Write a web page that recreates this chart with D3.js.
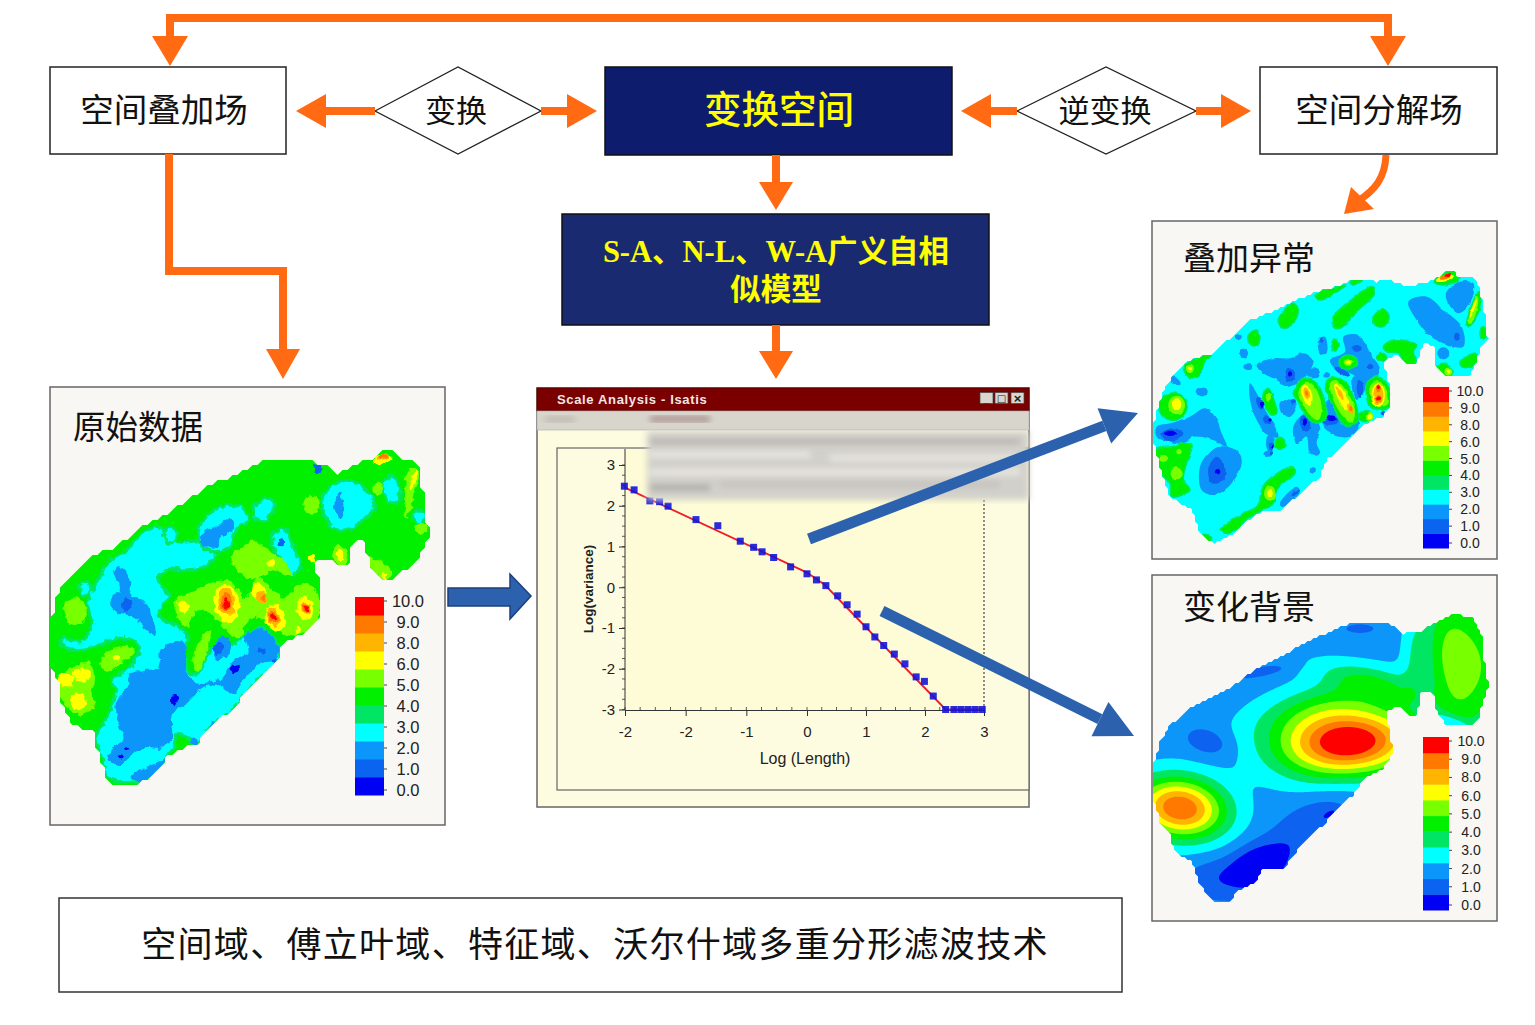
<!DOCTYPE html>
<html lang="zh"><head><meta charset="utf-8">
<style>html,body{margin:0;padding:0;background:#fff}svg{display:block}</style>
<script src="https://cdnjs.cloudflare.com/ajax/libs/d3/7.8.5/d3.min.js"></script></head>
<body><svg id="c" width="1535" height="1025"></svg>
<script>
// ---------- DATA ----------
const legendLabels = ["10.0","9.0","8.0","6.0","5.0","4.0","3.0","2.0","1.0","0.0"];
const bandColors = ["#0000f5","#0a64f0","#0a96fa","#00ffff","#00e664","#00f000","#78ff00","#ffff00","#ffb400","#ff7800","#ff0000"];
const xTickValues = [-3,-2,-1,0,1,2,3];
const xTickLabels = ["-2","-2","-1","0","1","2","3"];
const yTickValues = [3,2,1,0,-1,-2,-3];
const logLength = [-3.01,-2.85,-2.59,-2.43,-2.29,-1.83,-1.47,-1.10,-0.88,-0.74,-0.55,-0.27,0,0.16,0.32,0.52,0.68,0.85,1,1.15,1.30,1.48,1.66,1.85,1.99,2.14,2.35,2.49,2.61,2.73,2.85,2.97];
const logVariance = [2.48,2.39,2.12,2.10,1.99,1.66,1.51,1.13,0.98,0.87,0.73,0.50,0.33,0.18,0.04,-0.21,-0.43,-0.66,-0.97,-1.22,-1.43,-1.64,-1.88,-2.20,-2.31,-2.67,-3,-3,-3,-3,-3,-3];
const fitLength = [-3.01,0,0.3,2.35,2.97];
const fitVariance = [2.45,0.36,0.06,-3,-3];

// map 1: outline, iso-band regions [band, x,y, x,y ...], iso-band spots [band, x,y,rx,ry,angle]
const rawOutline = [[20,760],[20,700],[35,640],[60,590],[100,550],[140,510],[200,490],[250,460],[300,420],[370,385],[430,340],[500,300],[570,270],[640,235],[710,220],[800,230],[840,240],[880,265],[930,235],[990,220],[1020,195],[1045,195],[1060,220],[1105,220],[1125,260],[1135,330],[1140,400],[1155,440],[1130,500],[1110,540],[1060,570],[1030,590],[1000,580],[975,545],[965,500],[955,465],[930,465],[915,500],[905,545],[880,550],[860,515],[830,525],[805,535],[820,580],[820,630],[830,700],[790,740],[740,760],[710,790],[700,830],[640,880],[610,910],[570,970],[500,1020],[450,1085],[400,1090],[360,1120],[350,1150],[290,1190],[220,1205],[185,1185],[170,1130],[150,1080],[145,1040],[85,1020],[50,950],[35,880],[18,850]];
const rawRegions = [
[3,130,640,150,600,190,530,250,490,300,440,345,425,400,470,470,470,510,510,480,545,420,555,360,555,340,590,370,630,340,690,390,720,425,750,420,800,430,860,460,865,500,790,560,780,600,750,650,730,700,780,705,830,640,880,600,930,560,980,500,1020,450,1085,430,1060,395,1050,385,1090,360,1120,345,1150,290,1185,220,1190,185,1170,170,1110,150,1060,185,1000,210,920,200,880,240,860,280,800,270,770,220,760,130,790,60,790,50,760,110,770,140,720,130,670],
[3,480,400,530,365,590,365,610,400,570,440,560,480,510,500,470,480,460,440],
[3,835,330,870,295,930,290,975,330,990,365,950,410,900,435,860,425,835,380],
[3,1015,290,1045,270,1065,320,1060,350,1030,350,1015,320],
[3,690,440,720,430,750,500,770,540,740,570,700,510,680,470],
[3,630,360,670,340,690,370,650,410,625,395],
[3,355,440,385,425,395,460,370,475],
[3,1110,380,1140,385,1130,420,1105,400],
[2,205,560,230,545,255,590,255,625,290,640,320,690,330,750,300,730,260,690,210,680,195,650,225,610],
[2,345,800,400,765,425,790,420,850,450,890,530,880,560,830,610,800,600,750,660,735,700,790,700,820,640,840,590,890,570,930,520,900,480,905,420,960,380,990,380,1060,350,1090,300,1090,260,1110,220,1140,185,1120,200,1095,235,1060,215,1000,220,940,245,910,250,870,300,855,345,850],
[2,475,440,520,420,555,400,565,430,530,460,510,490,470,475],
[2,510,770,550,755,555,800,520,825,505,800],
[2,260,1175,340,1130,360,1120,350,1150,290,1190],
[2,885,320,895,360,890,400,870,380,870,350],
[6,40,880,90,840,130,830,150,880,140,930,150,960,100,990,70,970,40,920],
[6,170,820,215,790,260,785,270,800,220,840,180,860],
[6,445,830,465,760,495,735,490,790,460,860],
[6,390,650,440,620,510,590,560,590,600,640,640,580,720,640,760,600,810,610,820,700,780,740,720,750,690,720,620,700,580,760,530,720,490,680,450,680,430,730,400,700],
[6,560,520,620,470,680,500,730,540,740,570,690,560,630,580,580,560],
[6,880,480,905,500,900,545,880,540,865,510],
[6,970,520,1010,530,1040,560,1020,590,985,560],
[6,1095,250,1120,260,1110,320,1085,400,1078,380]
];
const rawSpots = [
[3,120,610,18,22,0],[2,505,1020,10,8,0],[2,450,1070,12,14,0],
[1,820,250,15,15,0],[1,710,472,10,12,0],[1,245,660,14,20,0],[1,520,790,15,20,10],[1,650,800,12,10,0],[1,690,830,10,5,0],
[0,568,852,14,12,0],[0,388,945,10,18,0],[0,245,1090,8,6,0],[0,225,1115,8,5,0],
[6,90,680,35,40,0],[6,1000,310,15,20,0],[6,800,360,25,30,0],[6,1130,430,20,15,0],[6,640,505,18,25,0],
[7,60,885,25,22,0],[7,110,870,25,20,0],[7,100,950,25,25,0],[7,215,820,12,10,0],[7,1105,285,6,35,15],[7,1020,575,8,10,0],[7,885,510,10,18,0],[7,680,535,12,10,0],[7,800,520,8,12,0],
[7,415,665,16,18,0],[7,545,655,38,58,-5],[7,640,620,20,28,-30],[7,690,700,30,40,-15],[7,780,670,25,35,-15],[7,760,735,10,10,0],[7,1010,222,30,15,-15],
[8,545,650,25,42,-5],[8,650,635,15,20,-30],[8,685,695,18,28,-20],[8,782,670,12,20,-15],[8,1015,215,20,12,-20],
[9,545,650,15,28,-5],[9,655,640,6,8,0],[9,685,695,12,18,-20],[9,782,670,9,14,-15],[9,1015,215,14,9,-20],
[10,545,655,9,16,-5],[10,687,695,6,8,-20],[10,783,670,5,8,-15]];

// map 2: anomalies
const anomalyOutline = [[10,640],[15,590],[40,510],[80,450],[130,415],[190,400],[250,345],[300,300],[380,270],[440,240],[500,215],[560,200],[610,175],[680,185],[720,180],[770,200],[820,190],[850,180],[890,155],[915,150],[925,175],[970,170],[990,205],[1005,290],[1005,340],[1015,355],[990,380],[980,430],[960,465],[890,470],[860,440],[850,375],[820,370],[800,435],[770,430],[740,405],[700,425],[715,480],[725,550],[700,590],[650,610],[610,650],[590,670],[530,720],[510,770],[440,830],[390,870],[320,880],[250,940],[190,970],[150,940],[125,870],[60,830],[40,770],[15,690]];
const anomalyRegions = [
[2,20,620,60,610,120,590,165,565,195,590,215,640,230,680,190,660,130,650,100,670,60,665,20,650],
[2,150,740,175,700,210,680,265,695,275,730,245,790,195,825,155,810],
[2,320,435,370,415,420,415,460,400,490,420,480,450,440,490,410,500,380,480,340,460],
[2,300,490,320,520,340,560,375,620,385,650,360,650,320,600,300,540],
[2,390,550,430,540,440,560,420,590,395,580],
[2,430,620,470,580,510,620,500,670,510,700,480,700,470,650,440,670],
[2,520,560,550,530,610,590,630,610,600,650,540,640,515,600],
[2,505,360,525,350,530,400,510,400],
[2,580,350,625,345,660,400,690,450,660,490,600,460,560,450,540,420,585,395],
[2,610,470,650,480,640,520,620,540,610,510],
[2,775,245,830,230,880,270,935,320,940,380,880,370,830,340,800,300],
[2,890,215,930,185,970,190,960,250,925,280,890,240],
[2,390,850,440,800,450,815,400,860],
[1,35,640,70,625,100,640,80,660,45,660],
[1,175,745,200,710,225,740,220,780,185,790],
[5,395,280,430,250,445,270,430,310,400,325,385,305],
[5,295,345,320,330,330,355,320,378,298,370],
[5,550,290,610,235,665,200,672,225,630,265,570,325,550,320],
[5,670,290,700,268,718,290,700,320,675,315],
[5,495,225,560,200,590,195,560,215,510,240],
[5,600,185,640,175,610,195],
[5,100,440,125,420,185,405,165,425,145,470,115,470],
[5,25,550,60,520,100,530,110,570,80,600,40,590],
[5,15,690,60,680,125,672,110,730,100,780,120,810,65,830,60,790,30,760,15,720],
[5,210,930,280,880,320,860,345,790,430,740,435,760,380,810,370,850,300,890,240,940],
[5,850,185,890,155,920,155,925,180,880,195],
[5,950,310,985,215,992,240,975,300,955,320],
[5,700,380,730,360,800,375,790,395,800,430,770,432,745,400,710,395],
[5,930,425,975,400,985,420,960,440,935,440],
[5,860,440,880,430,910,455,895,470,870,465],
[5,340,520,355,505,372,540,380,580,365,585,342,550],
[5,430,520,460,475,500,490,520,530,530,590,500,610,470,590,440,540],
[5,525,490,550,472,590,490,620,560,625,600,590,620,560,580],
[5,650,490,680,470,710,490,725,550,700,570,660,560,650,530],
[6,445,520,465,490,490,495,515,560,505,600,480,585],
[6,540,490,555,480,580,500,615,570,605,610,580,590,550,540],
[6,660,500,685,480,705,500,715,550,690,560,665,540],
[6,955,310,982,225,985,245,965,310]
];
const anomalySpots = [
[2,70,480,25,10,30],[2,155,515,18,14,0],[2,265,350,10,10,0],[2,280,400,14,14,0],[2,295,440,15,10,0],[2,360,670,12,25,0],[2,355,700,12,10,0],[2,490,460,20,15,0],[2,530,465,10,8,0],[2,880,400,18,18,0],[2,490,750,8,8,0],
[1,420,465,15,20,0],[1,330,550,10,20,-20],[1,350,600,10,15,-25],[1,465,610,15,25,-15],[1,365,680,8,12,0],[1,365,700,6,6,0],[1,540,600,25,15,0],[1,430,545,8,8,0],[1,575,455,25,8,30],[1,630,505,10,25,0],[1,660,440,10,8,0],[1,620,385,15,10,0],[1,515,360,6,8,0],[1,700,580,8,6,0],[1,435,820,15,5,-40],[1,920,350,8,12,0],
[0,60,640,18,8,0],[0,203,755,8,8,0],[0,370,680,4,5,0],[0,545,595,15,8,0],[0,465,605,6,10,0],[0,420,462,6,8,0],[0,335,555,5,8,0],[0,360,600,5,5,0],
[5,165,955,20,12,0],[5,1000,340,10,20,0],[5,595,427,28,22,0],[5,555,375,10,18,0],[5,695,412,15,12,0],[5,390,670,15,18,0],[5,645,590,20,15,0],
[6,355,530,8,12,0],[6,120,445,12,14,0],[6,80,555,25,28,0],[6,40,715,14,10,0],[6,80,760,18,18,0],[6,87,695,8,8,0],[6,360,820,18,22,0],[6,895,455,12,12,0],[6,595,427,14,10,0],[6,660,590,12,12,0],
[7,80,553,14,18,0],[7,470,525,16,32,-15],[7,575,530,13,45,-25],[7,685,525,20,35,0],[7,970,265,4,30,20],[7,660,590,7,8,0],[7,895,455,6,6,0],[7,360,820,8,10,0],[7,595,427,8,6,0],[7,120,445,6,7,0],[7,885,175,28,9,-15],
[8,470,520,9,18,-15],[8,600,565,8,16,-20],[8,570,520,6,22,-25],[8,685,525,15,28,0],
[9,603,565,4,8,-20],[9,470,520,4,8,-15],[9,888,170,20,7,-20],[9,685,505,8,12,0],[9,685,535,10,10,0],
[10,685,503,5,7,0],[10,685,535,8,6,0],[10,895,165,12,4,-20]];

// map 3: smooth background, sources [x,y,sx,sy,angle,amp]
const backgroundOutline = [[10,580],[30,510],[60,460],[120,410],[190,375],[250,340],[320,290],[400,250],[470,210],[560,170],[620,150],[680,150],[720,155],[760,185],[810,180],[860,150],[910,125],[970,140],[995,190],[1000,250],[1015,340],[985,440],[970,460],[890,460],[860,420],[850,365],[815,360],[800,430],[780,432],[750,400],[710,415],[715,460],[730,540],[700,590],[640,620],[610,670],[580,690],[520,760],[470,800],[400,890],[340,890],[320,930],[260,960],[245,990],[190,990],[150,940],[125,870],[70,835],[60,780],[30,750],[10,680]];
const backgroundBase = 2.5;
const backgroundSources = [
[595,510,145,72,-3,8.8],[90,708,95,63,8,7.5],[520,390,150,50,-15,1.5],[660,330,120,35,15,1.9],
[900,260,55,150,-8,2.3],[990,270,90,150,-8,2.9],[790,250,25,90,0,1],
[630,170,35,11,0,-1],[330,300,55,10,-10,-1.4],[175,510,50,30,15,-1.3],[320,885,62,45,-20,-2.5],[470,770,130,52,-40,-1.3],
[540,725,15,6,-30,-1.2],[190,920,65,45,0,-1.1],[905,450,45,14,20,-1.6]];

// ---------- HELPERS ----------
const svg = d3.select("#c");
const CJK = "'Noto Sans CJK SC','Noto Sans',sans-serif";
const LATIN = "'Liberation Sans',Arial,sans-serif";
const ORANGE = "#ff6a13", BLUE = "#2c62ad";
const defs = svg.append("defs");
defs.append("filter").attr("id","soft").append("feGaussianBlur").attr("stdDeviation",0.6);
defs.append("filter").attr("id","heavy").attr("x","-5%").attr("y","-5%").attr("width","110%").attr("height","110%").append("feGaussianBlur").attr("stdDeviation",3);
function rough(id,scale,freq){
  const f=defs.append("filter").attr("id",id).attr("x","-5%").attr("y","-5%").attr("width","110%").attr("height","110%");
  f.append("feTurbulence").attr("type","fractalNoise").attr("baseFrequency",freq).attr("numOctaves",2).attr("seed",4).attr("result","n");
  f.append("feDisplacementMap").attr("in","SourceGraphic").attr("in2","n").attr("scale",scale).attr("xChannelSelector","R").attr("yChannelSelector","G").attr("result","d");
  f.append("feGaussianBlur").attr("in","d").attr("stdDeviation",0.5);
}
rough("rough1",7,0.16); rough("rough2",3,0.14);

function box(x,y,w,h,fill,stroke,sw){
  return svg.append("rect").attr("x",x).attr("y",y).attr("width",w).attr("height",h).attr("fill",fill).attr("stroke",stroke).attr("stroke-width",sw||1.5);
}
function label(t,x,y,size,color,opts){
  opts=opts||{};
  return svg.append("text").text(t).attr("x",x).attr("y",y-2).attr("font-size",size).attr("fill",color||"#111")
    .attr("font-family",opts.font||CJK).attr("font-weight",opts.weight||400).attr("text-anchor",opts.anchor||"middle")
    .attr("dominant-baseline","central").attr("letter-spacing",opts.ls||0);
}
function arrow(x1,y1,x2,y2,w,hl,hw,color){
  const a=Math.atan2(y2-y1,x2-x1),c=Math.cos(a),s=Math.sin(a);
  const bx=x2-c*hl,by=y2-s*hl;
  svg.append("line").attr("x1",x1).attr("y1",y1).attr("x2",bx).attr("y2",by).attr("stroke",color).attr("stroke-width",w);
  svg.append("polygon").attr("fill",color).attr("points",[[x2,y2],[bx-s*hw,by+c*hw],[bx+s*hw,by-c*hw]].join(" "));
}

// ---------- MAP PANELS ----------
function mapScales(cfg){
  return {sx:d3.scaleLinear().domain([0,cfg.units[0]]).range([cfg.origin[0],cfg.origin[0]+cfg.units[0]/3]),
          sy:d3.scaleLinear().domain([0,cfg.units[1]]).range([cfg.origin[1],cfg.origin[1]+cfg.units[1]/3])};
}
function mapClip(id,cfg,S){
  const mc=cfg.edgeCell, mn=Math.ceil(cfg.units[0]/3/mc), mm=Math.ceil(cfg.units[1]/3/mc), mask=[];
  for(let j=0;j<mm;j++)for(let i=0;i<mn;i++)
    mask.push(d3.polygonContains(cfg.outline,[S.sx.invert(cfg.origin[0]+(i+.5)*mc),S.sy.invert(cfg.origin[1]+(j+.5)*mc)])?1:0);
  const edge=d3.contours().size([mn,mm]).smooth(false).thresholds([0.5])(mask)[0];
  defs.append("clipPath").attr("id","clip"+id).append("path").attr("d",d3.geoPath(d3.geoIdentity().scale(mc).translate(cfg.origin))(edge));
  return svg.append("g").attr("clip-path",`url(#clip${id})`);
}
function drawLegend(L){
  const ly=d3.scaleBand().domain(d3.range(bandColors.length).reverse()).range([L.top,L.bottom]);
  svg.append("g").selectAll("rect").data(d3.range(bandColors.length)).join("rect")
    .attr("x",L.x).attr("width",L.w).attr("y",d=>ly(d)).attr("height",ly.bandwidth()+.5).attr("fill",d=>bandColors[d]);
  const lt=d3.scaleLinear().domain([0,legendLabels.length-1]).range([L.top+4,L.bottom-5]);
  svg.append("g").selectAll("text").data(legendLabels).join("text").text(d=>d)
    .attr("x",L.tx).attr("y",(d,i)=>lt(i)).attr("font-size",L.fs).attr("fill","#222").attr("font-family",LATIN)
    .attr("text-anchor","middle").attr("dominant-baseline","central");
  svg.append("g").selectAll("line").data(legendLabels).join("line")
    .attr("x1",L.x+L.w).attr("x2",L.x+L.w+3).attr("y1",(d,i)=>lt(i)).attr("y2",(d,i)=>lt(i)).attr("stroke","#444");
}
function drawBandMap(id,cfg){
  const S=mapScales(cfg);
  const g=mapClip(id,cfg,S).append("g").attr("filter",`url(#${cfg.filter})`);
  g.append("rect").attr("x",cfg.origin[0]-5).attr("y",cfg.origin[1]-5).attr("width",cfg.units[0]/3+10).attr("height",cfg.units[1]/3+10).attr("fill",bandColors[cfg.baseBand]);
  const line=d3.line().x(d=>S.sx(d[0])).y(d=>S.sy(d[1])).curve(d3.curveCatmullRomClosed.alpha(.5));
  const shapes=[];
  cfg.regions.forEach(r=>{const p=[];for(let i=1;i<r.length;i+=2)p.push([r[i],r[i+1]]);shapes.push({band:r[0],pts:p});});
  cfg.spots.forEach(s=>{
    const a=s[5]*Math.PI/180,p=d3.range(0,2*Math.PI,Math.PI/8).map(t=>{
      const u=s[3]*Math.cos(t),v=s[4]*Math.sin(t);return[s[1]+u*Math.cos(a)-v*Math.sin(a),s[2]+u*Math.sin(a)+v*Math.cos(a)];});
    shapes.push({band:s[0],pts:p});
  });
  cfg.order.forEach(b=>{
    g.append("g").selectAll("path").data(shapes.filter(d=>d.band===b)).join("path")
      .attr("d",d=>line(d.pts)).attr("fill",bandColors[b])
      .attr("stroke",b===cfg.rimBand?bandColors[4]:"none").attr("stroke-width",cfg.rim);
  });
  drawLegend(cfg.legend);
}
function drawFieldMap(id,cfg){
  const S=mapScales(cfg);
  const n=Math.ceil(cfg.units[0]/3/cfg.cell), m=Math.ceil(cfg.units[1]/3/cfg.cell);
  const srcs=cfg.sources.map(d=>{const r=d[4]*Math.PI/180;return{x:d[0],y:d[1],sx:d[2],sy:d[3],c:Math.cos(r),s:Math.sin(r),a:d[5]};});
  const values=[];
  for(let j=0;j<m;j++)for(let i=0;i<n;i++){
    const ux=S.sx.invert(cfg.origin[0]+(i+.5)*cfg.cell), uy=S.sy.invert(cfg.origin[1]+(j+.5)*cfg.cell);
    let v=cfg.base;
    for(const b of srcs){
      const dx=ux-b.x,dy=uy-b.y,u=(dx*b.c+dy*b.s)/b.sx,w=(-dx*b.s+dy*b.c)/b.sy;
      v+=b.a*Math.exp(-(u*u+w*w)/2);
    }
    values.push(v);
  }
  const geo=d3.geoPath(d3.geoIdentity().scale(cfg.cell).translate(cfg.origin));
  const bands=d3.contours().size([n,m]).smooth(true).thresholds(d3.range(1,11))(values);
  const g=mapClip(id,cfg,S).append("g").attr("filter","url(#soft)");
  g.append("rect").attr("x",cfg.origin[0]).attr("y",cfg.origin[1]).attr("width",n*cfg.cell).attr("height",m*cfg.cell).attr("fill",bandColors[0]);
  g.selectAll("path").data(bands).join("path").attr("d",geo).attr("fill",d=>bandColors[d.value]);
  drawLegend(cfg.legend);
}

// ---------- STRUCTURE ----------
box(50,67,236,87,"#fff","#222");
box(1260,67,237,87,"#fff","#222");
box(605,67,347,88,"#0e1c6e","#111");
box(562,214,427,111,"#1a2a70","#111");
box(59,898,1063,94,"#fff","#333");
box(50,387,395,438,"#f8f7f3","#666");
box(1152,221,345,338,"#f8f7f3","#666");
box(1152,575,345,346,"#f8f7f3","#666");

svg.append("polygon").attr("points","375,111 458,67 541,111 458,154").attr("fill","#fff").attr("stroke","#222").attr("stroke-width",1.3);
svg.append("polygon").attr("points","1017,111 1106,67 1196,111 1106,154").attr("fill","#fff").attr("stroke","#222").attr("stroke-width",1.3);

label("空间叠加场",164,109,33.5,"#111");
label("空间分解场",1379,109,33.5,"#111");
label("变换",456,110,31,"#111");
label("逆变换",1105,110,31,"#111");
label("变换空间",779,108,37.5,"#ffff00",{weight:500});
label("S-A、N-L、W-A广义自相",776,254,30.5,"#ffff00",{font:"'Liberation Serif',"+CJK,weight:700});
label("似模型",776,292,30.5,"#ffff00",{font:"'Liberation Serif',"+CJK,weight:700});
label("空间域、傅立叶域、特征域、沃尔什域多重分形滤波技术",595,943,35,"#111",{ls:1.3});
label("原始数据",73,426,32.5,"#111",{anchor:"start"});
label("叠加异常",1183,258,33,"#111",{anchor:"start"});
label("变化背景",1183,607,33,"#111",{anchor:"start"});

// orange arrows
svg.append("path").attr("d","M170,40 V18 H1388 V40").attr("fill","none").attr("stroke",ORANGE).attr("stroke-width",8);
arrow(170,20,170,66,8,30,18,ORANGE);
arrow(1388,20,1388,66,8,30,18,ORANGE);
arrow(375,111,296,111,8,30,17,ORANGE);
arrow(541,111,597,111,8,30,17,ORANGE);
arrow(1017,111,961,111,8,30,17,ORANGE);
arrow(1196,111,1251,111,8,30,17,ORANGE);
arrow(776,155,776,210,8,28,17,ORANGE);
arrow(776,325,776,379,8,28,17,ORANGE);
svg.append("path").attr("d","M169,154 V271 H283 V355").attr("fill","none").attr("stroke",ORANGE).attr("stroke-width",8);
arrow(283,340,283,379,8,30,17,ORANGE);
svg.append("path").attr("d","M1386,155 C1385,178 1375,190 1358,201").attr("fill","none").attr("stroke",ORANGE).attr("stroke-width",7);
svg.append("polygon").attr("fill",ORANGE).attr("points","1344,214 1351,187 1374,209");

// maps
drawBandMap(1,{outline:rawOutline,regions:rawRegions,spots:rawSpots,baseBand:5,rimBand:3,rim:3,order:[3,2,1,0,6,7,8,9,10],filter:"rough1",units:[1215,1335],origin:[45,385],edgeCell:5,
  legend:{x:355,w:29,top:597,bottom:795,tx:408,fs:16.5}});
drawBandMap(2,{outline:anomalyOutline,regions:anomalyRegions,spots:anomalySpots,baseBand:3,rimBand:5,rim:1.5,order:[2,1,0,5,6,7,8,9,10],filter:"rough2",units:[1050,1035],origin:[1150,220],edgeCell:3,
  legend:{x:1423,w:26,top:387,bottom:548,tx:1470,fs:14}});
drawFieldMap(3,{outline:backgroundOutline,base:backgroundBase,sources:backgroundSources,units:[1050,1056],origin:[1150,572],cell:2,edgeCell:3,
  legend:{x:1423,w:26,top:737,bottom:910,tx:1471,fs:14}});

// ---------- ISATIS WINDOW ----------
box(537,388,492,419,"#fdfbe0","#666",1.5);
box(537,388,492,23,"#7a0000","#5a0000",1);
svg.append("text").text("Scale Analysis - Isatis").attr("x",557).attr("y",399.5).attr("font-size",13).attr("font-weight",700)
  .attr("fill","#f4e6e6").attr("font-family",LATIN).attr("dominant-baseline","central").attr("letter-spacing",0.65);
[980,995,1011].forEach((x,i)=>{
  box(x,392.5,13,11,"#d9d6cf","#444",.7);
  svg.append("text").text(["_","□","×"][i]).attr("x",x+6.5).attr("y",398).attr("font-size",i==2?13:10).attr("font-weight",700).attr("text-anchor","middle").attr("dominant-baseline","central").attr("fill","#222").attr("font-family",i==1?"'DejaVu Sans'":LATIN);
});
box(537,411,492,19,"#d8d5cc","#aaa",.6);
box(557,448,472,342,"#fdfbe0","#666",1.2);
const xS=d3.scaleLinear().domain([-3,0,3]).range([625,807,984]);
const yS=d3.scaleLinear().domain([-3,3]).range([709.5,465]);
svg.append("rect").attr("x",625).attr("y",449).attr("width",359).attr("height",261).attr("fill","#fefcd6");
const minorY=d3.range(-3,3.01,0.25), minorX=d3.range(-3,3.01,0.25);
const axX=svg.append("g").attr("transform","translate(0,710)").call(d3.axisBottom(xS).tickValues(xTickValues).tickFormat((d,i)=>xTickLabels[i]).tickSize(6).tickPadding(10));
const axY=svg.append("g").attr("transform","translate(625,0)").call(d3.axisLeft(yS).tickValues(yTickValues).tickFormat(d=>d).tickSize(6).tickPadding(4));
[axX,axY].forEach(a=>{a.selectAll("text").attr("font-size",15).attr("font-family",LATIN).attr("fill","#222");a.selectAll("line,path").attr("stroke","#333");});
axY.select(".domain").attr("d","M0,449 V710");
svg.append("g").selectAll("line").data(minorX).join("line").attr("x1",d=>xS(d)).attr("x2",d=>xS(d)).attr("y1",710).attr("y2",707).attr("stroke","#333").attr("stroke-width",.8);
svg.append("g").selectAll("line").data(minorY).join("line").attr("x1",625).attr("x2",622).attr("y1",d=>yS(d)).attr("y2",d=>yS(d)).attr("stroke","#333").attr("stroke-width",.8);
svg.append("line").attr("x1",984).attr("x2",984).attr("y1",500).attr("y2",710).attr("stroke","#444").attr("stroke-dasharray","2 2").attr("stroke-width",1.2);
svg.append("text").text("Log (Length)").attr("x",805).attr("y",758).attr("text-anchor","middle").attr("dominant-baseline","central").attr("font-size",16).attr("font-family",LATIN).attr("fill","#222");
svg.append("text").text("Log(variance)").attr("transform","translate(588,589) rotate(-90)").attr("text-anchor","middle").attr("dominant-baseline","central").attr("font-size",13.5).attr("font-weight",700).attr("font-family",LATIN).attr("fill","#222");
svg.append("path").attr("d",d3.line().x(d=>xS(d)).y((d,i)=>yS(fitVariance[i]))(fitLength)).attr("fill","none").attr("stroke","#ee1c25").attr("stroke-width",1.8);
svg.append("g").selectAll("rect").data(logLength).join("rect").attr("x",d=>xS(d)-3.5).attr("y",(d,i)=>yS(logVariance[i])-3.5).attr("width",7).attr("height",7).attr("fill","#1414d8").attr("opacity",.9);

// blurred dialog overlay
const blur=svg.append("g").attr("filter","url(#heavy)");
blur.append("rect").attr("x",647).attr("y",431).attr("width",382).attr("height",69).attr("fill","#d2d0ca");
[[650,440,370,3,"#a09c97"],[650,452,160,5,"#ecebe6"],[830,455,190,6,"#e8e6e1"],[650,470,370,4,"#f3f1ee"],[650,485,60,5,"#a5a39f"],[720,482,280,5,"#c2c0bb"]]
  .forEach(r=>blur.append("rect").attr("x",r[0]).attr("y",r[1]).attr("width",r[2]).attr("height",r[3]).attr("fill",r[4]));
const menuBlur=svg.append("g").attr("filter","url(#heavy)");
[[545,417,30,5,"#b9b2aa"],[650,416,60,6,"#a88f8c"]].forEach(r=>menuBlur.append("rect").attr("x",r[0]).attr("y",r[1]).attr("width",r[2]).attr("height",r[3]).attr("fill",r[4]));

// blue arrows
arrow(809,539,1138,413,11,36,19,BLUE);
arrow(882,611,1134,736,11,38,19,BLUE);
svg.append("polygon").attr("points","448,588 510,588 510,574 531,596 510,619 510,606 448,606").attr("fill",BLUE).attr("stroke","#1c3f7c").attr("stroke-width",1.5);
</script></body></html>
